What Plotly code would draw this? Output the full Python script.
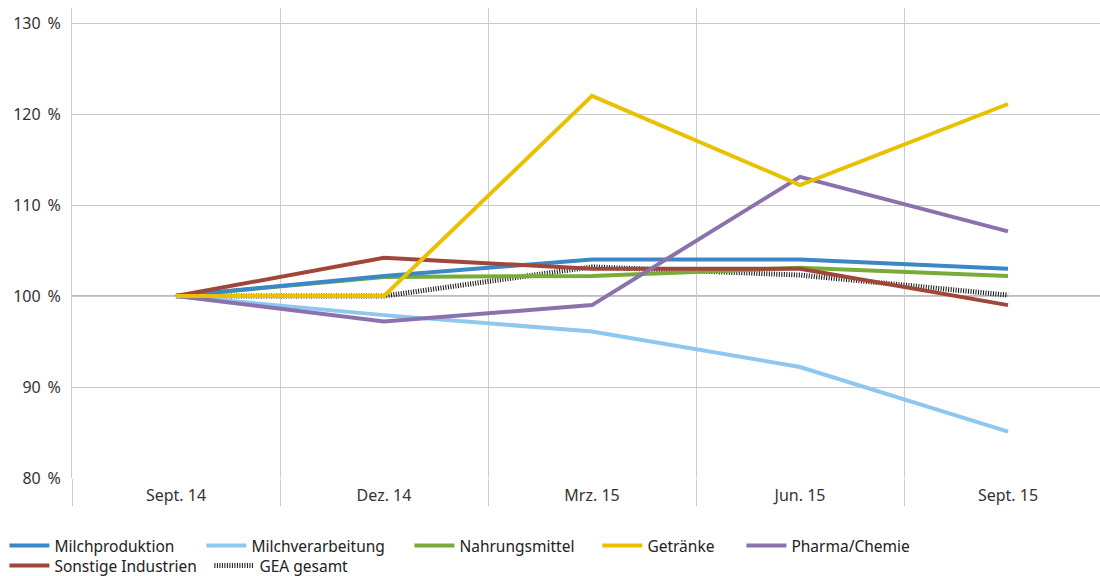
import plotly.graph_objects as go

categories = ["Sept. 14", "Dez. 14", "Mrz. 15", "Jun. 15", "Sept. 15"]
milchproduktion = [100, 102.2, 104.0, 104.0, 103.0]
milchverarbeitung = [100, 97.9, 96.1, 92.2, 85.1]
nahrungsmittel = [100, 102.1, 102.2, 103.1, 102.2]
getraenke = [100, 100, 122.0, 112.2, 121.1]
pharma_chemie = [100, 97.2, 99.0, 113.1, 107.1]
sonstige = [100, 104.2, 103.0, 103.0, 99.0]
gea_gesamt = [100, 100, 103.2, 102.3, 100.1]
y_ticks = [80, 90, 100, 110, 120, 130]
y_ticktext = ["80\u2009\u00a0%", "90\u2009\u00a0%", "100\u2009\u00a0%", "110\u2009\u00a0%", "120\u2009\u00a0%", "130\u2009\u00a0%"]

xs = list(range(len(categories)))

# name, values, color, dash, legend id
series = [
    ("GEA gesamt", gea_gesamt, "#111111", "1px,1.5px", "legend7"),
    ("Milchverarbeitung", milchverarbeitung, "#8ec8ee", "solid", "legend2"),
    ("Nahrungsmittel", nahrungsmittel, "#78ab37", "solid", "legend3"),
    ("Milchproduktion", milchproduktion, "#3b87c7", "solid", "legend"),
    ("Sonstige Industrien", sonstige, "#a1463a", "solid", "legend6"),
    ("Pharma/Chemie", pharma_chemie, "#8b72ad", "solid", "legend5"),
    ("Getränke", getraenke, "#e9c100", "solid", "legend4"),
]

# legend entry placement (left of symbol in px, row top in px)
legend_pos = {
    "legend": (10, 529), "legend2": (207, 529), "legend3": (415, 529),
    "legend4": (603, 529), "legend5": (747, 529),
    "legend6": (10, 549), "legend7": (215, 549),
}

fig = go.Figure()
for name, vals, color, dash, leg in series:
    fig.add_trace(go.Scatter(
        x=xs, y=vals, name=name, mode="lines",
        line=dict(color=color, width=4 if dash == "solid" else 5, dash=dash),
        legend=leg,
    ))

font_family = "Noto Sans, Open Sans, sans-serif"
legends = {}
for leg, (px, py) in legend_pos.items():
    legends[leg] = dict(
        orientation="h", xref="container", x=(px - 5.6) / 1100, xanchor="left",
        yref="container", y=1 - py / 576, yanchor="top",
        font=dict(size=15.5, color="#222222"),
        itemwidth=40, bgcolor="rgba(0,0,0,0)",
    )

fig.update_layout(
    width=1100, height=576,
    margin=dict(l=72, r=0, t=8, b=98, autoexpand=False),
    paper_bgcolor="white", plot_bgcolor="white",
    font=dict(family=font_family, size=15, color="#333333"),
    showlegend=True,
    **legends,
    xaxis=dict(
        range=[-0.5, 4.5 - 12 / 208],
        tickvals=xs, ticktext=categories,
        showgrid=False, zeroline=False, showline=False,
        ticks="", ticklabelstandoff=6,
        tickfont=dict(size=16, color="#333333"),
        minor=dict(
            tickvals=[-0.5, 0.5, 1.5, 2.5, 3.5],
            showgrid=True, gridcolor="#cccccc", gridwidth=1,
            ticks="outside", ticklen=27, tickcolor="#cccccc", tickwidth=1,
        ),
    ),
    yaxis=dict(
        range=[80, 131.65],
        tickvals=y_ticks, ticktext=y_ticktext,
        showgrid=True, gridcolor="#c8c8c8", gridwidth=1,
        zeroline=False, showline=True, linecolor="#cccccc", linewidth=1,
        ticks="", ticklabelstandoff=7,
        tickfont=dict(size=16, color="#333333"),
    ),
    shapes=[dict(
        type="line", xref="paper", x0=0, x1=1, yref="y", y0=100, y1=100,
        line=dict(color="#a6a6a6", width=1.5), layer="below",
    )],
)

fig.write_html("out.html")
